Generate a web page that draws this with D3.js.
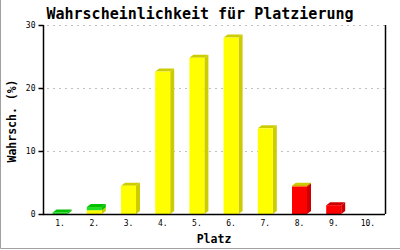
<!DOCTYPE html>
<html>
<head>
<meta charset="utf-8">
<script src="https://cdn.jsdelivr.net/npm/d3@7"></script>
<style>
  body { margin: 0; background: #fff; }
  svg { display: block; }
</style>
</head>
<body>
<div id="chart"></div>
<script>
const places = ['1.', '2.', '3.', '4.', '5.', '6.', '7.', '8.', '9.', '10.'];
// stacked parts, bottom to top: red, yellow, green
const redVals    = [0, 0, 0, 0, 0, 0, 0, 4.4, 1.4, 0];
const yellowVals = [0, 0.6, 4.5, 22.6, 24.8, 28.0, 13.6, 0.08, 0, 0];
const greenVals  = [0.25, 0.5, 0, 0, 0, 0, 0, 0, 0, 0];
const yTicks = [0, 10, 20, 30];

const width = 400;
const height = 250;
const plotLeft = 43, plotRight = 385, plotTop = 25, plotBottom = 214;
const depthX = 4, depthY = 3;
const barW = 15;

const colours = {
  red:    {front: '#ff0000', dark: '#cc0000'},
  yellow: {front: '#ffff00', dark: '#cccc00'},
  green:  {front: '#22dd22', dark: '#00c000'}
};

const rows = places.map((p, i) => ({place: p, red: redVals[i], yellow: yellowVals[i], green: greenVals[i]}));

const svg = d3.select('#chart').append('svg')
  .attr('width', width)
  .attr('height', height);

// frame (left + bottom only, like the original)
svg.append('path')
  .attr('d', `M0.5,0 V${height - 1.5} H${width}`)
  .attr('fill', 'none')
  .attr('stroke', '#a0a0a0')
  .attr('stroke-width', 1);

const x = d3.scaleBand().domain(places).range([plotLeft, plotRight]).padding(0);
const y = d3.scaleLinear().domain([0, 30]).range([plotBottom, plotTop]);

// grid
svg.append('g')
  .selectAll('line')
  .data(yTicks.filter(t => t > 0))
  .enter()
    .append('line')
      .attr('x1', plotLeft + 4)
      .attr('x2', plotRight)
      .attr('y1', d => Math.round(y(d)) + 0.5)
      .attr('y2', d => Math.round(y(d)) + 0.5)
      .attr('stroke', '#c0c0c0')
      .attr('stroke-dasharray', '2,4');

// bars
const stack = d3.stack().keys(['red', 'yellow', 'green']);
const series = stack(rows);

const barsG = svg.append('g');
rows.forEach((row, i) => {
  series.forEach(s => {
    const seg = s[i];
    if (seg[1] - seg[0] <= 0) return;
    const c = colours[s.key];
    const cx = x(row.place) + x.bandwidth() / 2;
    const x0 = cx - barW / 2, x1 = cx + barW / 2;
    const yb = y(seg[0]), yt = y(seg[1]);
    // side
    barsG.append('polygon')
      .attr('points', [[x1, yb], [x1 + depthX, yb - depthY], [x1 + depthX, yt - depthY], [x1, yt]].join(' '))
      .attr('fill', c.dark);
    // top
    barsG.append('polygon')
      .attr('points', [[x0, yt], [x0 + depthX, yt - depthY], [x1 + depthX, yt - depthY], [x1, yt]].join(' '))
      .attr('fill', c.dark);
    // front
    barsG.append('rect')
      .attr('x', x0)
      .attr('y', yt)
      .attr('width', barW)
      .attr('height', yb - yt)
      .attr('fill', c.front);
  });
});

// axes
const yAxis = svg.append('g')
  .attr('transform', `translate(${plotLeft + 0.5},0)`)
  .call(d3.axisLeft(y).tickValues(yTicks).tickSize(5).tickFormat(d3.format('d')));
yAxis.select('.domain').attr('d', `M0,${plotTop}V${plotBottom}`);

const xAxis = svg.append('g')
  .attr('transform', `translate(0,${plotBottom + 0.5})`)
  .call(d3.axisBottom(x).tickSize(0).tickPadding(6));
xAxis.select('.domain').attr('d', `M${plotLeft},0H${plotRight}`);

[yAxis, xAxis].forEach(a => {
  a.selectAll('path, line').attr('stroke', '#000').attr('stroke-width', 1.5);
  a.selectAll('text')
    .attr('font-family', 'DejaVu Sans Mono, monospace')
    .attr('font-size', 8)
    .attr('fill', '#000');
});

// right border
svg.append('line')
  .attr('x1', plotRight + 0.5).attr('x2', plotRight + 0.5)
  .attr('y1', plotTop).attr('y2', plotBottom)
  .attr('stroke', '#000').attr('stroke-width', 1.5);

// title
svg.append('text')
  .attr('x', 200)
  .attr('y', 19)
  .attr('text-anchor', 'middle')
  .attr('font-family', 'DejaVu Sans Mono, monospace')
  .attr('font-weight', 'bold')
  .attr('font-size', 15)
  .text('Wahrscheinlichkeit für Platzierung');

// axis titles
svg.append('text')
  .attr('transform', 'translate(16,121) rotate(-90)')
  .attr('text-anchor', 'middle')
  .attr('font-family', 'DejaVu Sans Mono, monospace')
  .attr('font-weight', 'bold')
  .attr('font-size', 11.5)
  .text('Wahrsch. (%)');

svg.append('text')
  .attr('x', (plotLeft + plotRight) / 2)
  .attr('y', 243)
  .attr('text-anchor', 'middle')
  .attr('font-family', 'DejaVu Sans Mono, monospace')
  .attr('font-weight', 'bold')
  .attr('font-size', 11.5)
  .text('Platz');
</script>
</body>
</html>
